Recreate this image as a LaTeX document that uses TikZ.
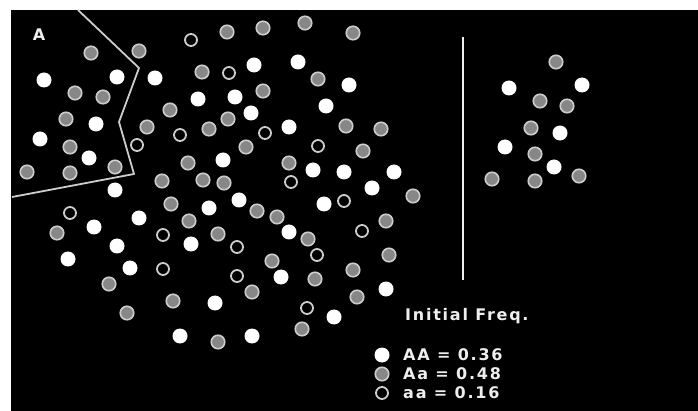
\documentclass[tikz,border=0pt]{standalone}
\usepackage{fontspec}
\newfontfamily\legendfont[LetterSpace=11]{DejaVu Sans}
\usepackage{xcolor}
\definecolor{popblack}{RGB}{0,0,0}
\definecolor{popgray}{RGB}{135,135,135}
\definecolor{poprim}{RGB}{205,205,205}
\definecolor{popwhite}{RGB}{238,238,238}
\usepackage{tikz}
\usetikzlibrary{positioning}
\tikzset{
  dotAA/.style  ={circle,fill=white,inner sep=0pt,minimum size=15pt},
  dotAa/.style  ={circle,fill=popgray,draw=poprim,line width=1.6pt,inner sep=0pt,minimum size=13.5pt},
  dotaa/.style  ={circle,fill=popblack,draw=poprim,line width=1.8pt,inner sep=0pt,minimum size=12pt},
  label/.style  ={text=popwhite,font=\legendfont\bfseries\fontsize{16}{16}\selectfont,inner sep=0pt},
  fence/.style  ={draw=poprim,line width=1.8pt,line join=round},
}

\begin{document}
\begin{tikzpicture}[x=1pt,y=-1pt]
  \useasboundingbox (0,0) rectangle (698,411);
  \fill[white] (0,0) rectangle (698,411);
  \fill[popblack] (11,10) rectangle (698,411);
  % region boundary and divider
  \draw[fence] (78,10) -- (139,68) -- (119,122) -- (134,174) -- (12,197);
  \draw[popwhite,line width=2.5pt] (463,37) -- (463,280);
  % homozygotes AA
  \foreach \x/\y [count=\i] in {44/80,117/77,155/78,254/65,298/62,349/85,198/99,235/97,326/106,
      96/124,251/113,289/127,40/139,89/158,223/160,313/170,344/172,394/172,372/188,115/190,
      209/208,239/200,324/204,139/218,94/227,289/232,117/246,191/244,68/259,130/268,281/277,
      386/289,215/303,334/317,180/336,252/336,509/88,582/85,560/133,505/147,554/167}
    \node[dotAA] (AA\i) at (\x,\y) {};
  % heterozygotes Aa
  \foreach \x/\y [count=\i] in {91/53,139/51,227/32,263/28,305/23,353/33,202/72,318/79,75/93,
      103/97,263/91,170/110,66/119,228/119,147/127,209/129,346/126,381/129,70/147,246/147,
      363/151,188/163,289/163,27/172,70/173,115/167,162/181,203/180,224/183,413/196,171/204,
      257/211,189/221,277/217,386/221,57/233,218/234,308/239,389/255,272/261,353/270,315/279,
      109/284,252/292,357/297,173/301,127/313,302/329,218/342,556/62,540/101,567/106,531/128,
      535/154,492/179,535/181,579/176}
    \node[dotAa] (Aa\i) at (\x,\y) {};
  % homozygotes aa
  \foreach \x/\y [count=\i] in {191/40,229/73,180/135,265/133,137/145,318/146,291/182,344/201,
      70/213,362/231,163/235,237/247,317/255,163/269,237/276,307/308}
    \node[dotaa] (aa\i) at (\x,\y) {};
  \node[label] (tag) at (39,35) {A};
  % legend
  \node[label,anchor=base west] (freq) at (405,320) {Initial Freq.};
  \node[dotAA] (keyAA) at (382,355) {};
  \node[dotAa] (keyAa) at (382,374) {};
  \node[dotaa] (keyaa) at (382,393) {};
  \node[label,anchor=west] (txtAA) at (403,355) {AA = 0.36};
  \node[label,anchor=west] (txtAa) at (403,374) {Aa = 0.48};
  \node[label,anchor=west] (txtaa) at (403,393) {aa = 0.16};
\end{tikzpicture}
\end{document}
